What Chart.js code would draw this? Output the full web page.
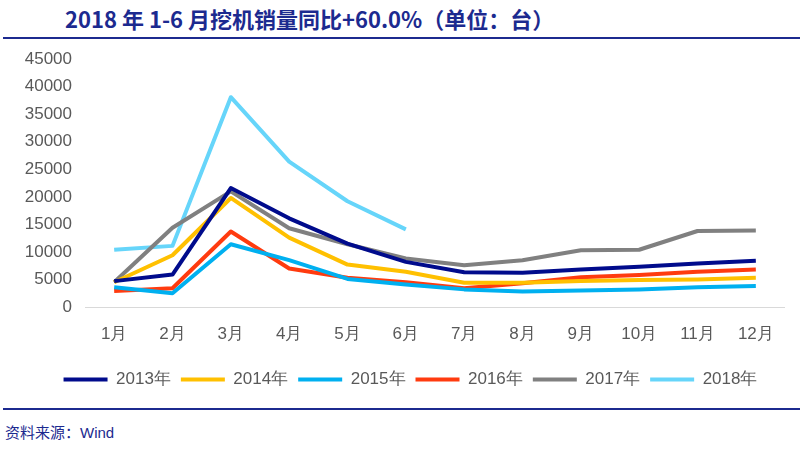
<!DOCTYPE html>
<html>
<head>
<meta charset="utf-8">
<script src="https://cdn.jsdelivr.net/npm/chart.js@4"></script>
<style>
  body { margin: 0; background: #fff; width: 800px; height: 462px; position: relative; overflow: hidden; }
  #title { position: absolute; left: 65px; top: 2px; font: bold 22px "Noto Sans CJK SC", sans-serif; color: #1c2a8f; white-space: nowrap; }
  .rule { position: absolute; left: 3px; right: 0; height: 2px; background: #1c2a8f; }
  #source { position: absolute; left: 5px; top: 421px; font: 15px "Noto Sans CJK SC", sans-serif; color: #1c2a8f; }
  #wrap { position: absolute; left: 0; top: 36px; width: 800px; height: 369px; }
</style>
</head>
<body>
<div id="title">2018 年 1-6 月挖机销量同比+60.0%（单位：台）</div>
<div class="rule" style="top:37px"></div>
<div id="wrap"><canvas id="myChart"></canvas></div>
<div class="rule" style="top:408px"></div>
<div id="source">资料来源：<span style="font-family:'Liberation Sans', Arial, sans-serif">Wind</span></div>
<script>
// months and yearly series (units)
const months = ['1月', '2月', '3月', '4月', '5月', '6月', '7月', '8月', '9月', '10月', '11月', '12月'];
const years = ['2013年', '2014年', '2015年', '2016年', '2017年', '2018年'];
const sales2013 = [4700, 5900, 21600, 16100, 11500, 8200, 6300, 6200, 6800, 7300, 7900, 8400];
const sales2014 = [4500, 9400, 19800, 12600, 7700, 6400, 4400, 4400, 4700, 4900, 5000, 5300];
const sales2015 = [3600, 2500, 11400, 8500, 5100, 4100, 3200, 2800, 3000, 3200, 3600, 3800];
const sales2016 = [2900, 3400, 13700, 7000, 5300, 4500, 3400, 4300, 5400, 5800, 6400, 6800];
const sales2017 = [4500, 14400, 21000, 14300, 11400, 8800, 7600, 8500, 10300, 10400, 13800, 13900];
const sales2018 = [10400, 11100, 38100, 26400, 19200, 14100];
const colors = ['#000b8c', '#ffc000', '#00b0f0', '#ff3b0f', '#808080', '#66d5fa'];

document.addEventListener('DOMContentLoaded', function() {
    const ctx = document.getElementById('myChart').getContext('2d');
    const series = [sales2013, sales2014, sales2015, sales2016, sales2017, sales2018];
    const labelFont = { family: "'Liberation Sans', Arial, sans-serif", size: 17 };

    const datasets = series.map((data, i) => ({
        label: years[i],
        data: data,
        borderColor: colors[i],
        backgroundColor: colors[i],
        borderWidth: 4,
        pointRadius: 0,
        tension: 0,
        borderJoinStyle: 'round',
        fill: false
    }));

    // nudge the legend a bit to the right, like the original
    const shiftLegend = {
        id: 'shiftLegend',
        afterLayout: function(chart) {
            chart.legend.left += 18;
            chart.legend.right += 18;
        }
    };

    new Chart(ctx, {
        type: 'line',
        data: { labels: months, datasets: datasets },
        plugins: [shiftLegend],
        options: {
            responsive: true,
            maintainAspectRatio: false,
            animation: false,
            layout: { padding: { top: 8, right: 15, left: 0, bottom: 7 } },
            plugins: {
                tooltip: { enabled: false },
                legend: {
                    position: 'bottom',
                    labels: {
                        boxWidth: 44,
                        boxHeight: 4,
                        padding: 10,
                        color: '#595959',
                        font: labelFont,
                        generateLabels: function(chart) {
                            const items = Chart.defaults.plugins.legend.labels.generateLabels(chart);
                            items.forEach(it => { it.lineWidth = 0; });
                            return items;
                        }
                    }
                }
            },
            scales: {
                x: {
                    offset: true,
                    grid: { display: false, drawTicks: false },
                    border: { display: false },
                    ticks: { color: '#595959', padding: 17, font: labelFont },
                    afterFit: function(scale) { scale.height = 54; }
                },
                y: {
                    min: 0,
                    max: 45000,
                    ticks: {
                        stepSize: 5000,
                        color: '#595959',
                        padding: 13,
                        font: labelFont,
                        callback: v => String(v)
                    },
                    grid: {
                        drawTicks: false,
                        color: ctx => ctx.tick.value === 0 ? '#d9d9d9' : 'rgba(0,0,0,0)'
                    },
                    border: { display: false },
                    afterFit: function(scale) { scale.width = 85; }
                }
            }
        }
    });
});
</script>
</body>
</html>
